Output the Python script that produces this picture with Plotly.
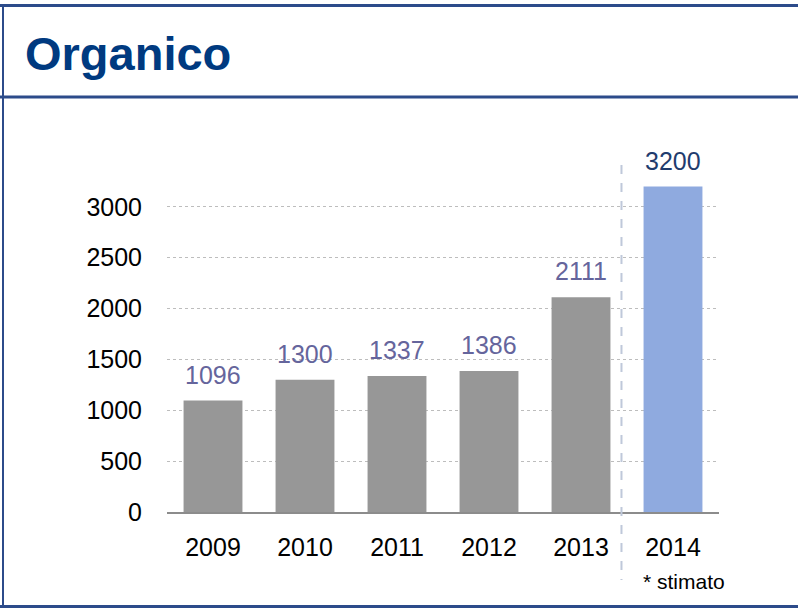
import plotly.graph_objects as go

years = ["2009", "2010", "2011", "2012", "2013", "2014"]
values = [1096, 1300, 1337, 1386, 2111, 3200]
bar_colors = ["#979797"] * 5 + ["#8FAADF"]
label_colors = ["#65659C"] * 5 + ["#1F3C6E"]
y_ticks = [0, 500, 1000, 1500, 2000, 2500, 3000]
title_text = "Organico"
note_text = "* stimato"

W, H = 798, 608
L, R, T, B = 167, 79, 156, 96
PW, PH = W - L - R, H - T - B


def px(xp):
    return (xp - L) / PW


def py(yp):
    return (H - B - yp) / PH


fig = go.Figure()
fig.add_trace(go.Bar(
    x=years, y=values,
    marker=dict(color=bar_colors, line=dict(width=0)),
    hoverinfo="x+y",
))

for i, (v, c) in enumerate(zip(values, label_colors)):
    fig.add_annotation(x=i, y=v, text=str(v), showarrow=False,
                       yanchor="bottom", yshift=10,
                       font=dict(size=25, color=c, family="Liberation Sans, Arial"))

line_col = "#2C4B8A"
shapes = [
    dict(type="line", xref="paper", yref="paper", x0=px(0), x1=px(W), y0=py(5.5), y1=py(5.5),
         line=dict(color=line_col, width=3)),
    dict(type="line", xref="paper", yref="paper", x0=px(0), x1=px(W), y0=py(97), y1=py(97),
         line=dict(color=line_col, width=3)),
    dict(type="line", xref="paper", yref="paper", x0=px(0), x1=px(W), y0=py(606.5), y1=py(606.5),
         line=dict(color=line_col, width=3)),
    dict(type="line", xref="paper", yref="paper", x0=px(3), x1=px(3), y0=py(5), y1=py(607),
         line=dict(color=line_col, width=2)),
    dict(type="line", xref="x", yref="paper", x0=4.44, x1=4.44, y0=py(165), y1=py(580),
         line=dict(color="#BFC8DA", width=2, dash="dash")),
]

fig.add_annotation(xref="paper", yref="paper", x=px(23), y=py(53), text="<b>" + title_text + "</b>",
                   showarrow=False, xanchor="left", yanchor="middle",
                   font=dict(size=47, color="#003A80", family="Liberation Sans, Arial"))
fig.add_annotation(xref="paper", yref="paper", x=px(641), y=py(581), text=note_text,
                   showarrow=False, xanchor="left", yanchor="middle",
                   font=dict(size=21, color="#000000", family="Liberation Sans, Arial"))

fig.update_layout(
    width=W, height=H,
    margin=dict(l=L, r=R, t=T, b=B, pad=0),
    paper_bgcolor="white", plot_bgcolor="white",
    bargap=0.36,
    showlegend=False,
    shapes=shapes,
    font=dict(family="Liberation Sans, Arial", size=25, color="#000000"),
    xaxis=dict(type="category", range=[-0.5, 5.5], showgrid=False, showline=True,
               linecolor="#8C8C8C", linewidth=1.5,
               ticks="", ticklabelstandoff=12, tickfont=dict(size=25, color="#000000")),
    yaxis=dict(range=[0, 3500], tickvals=y_ticks, showgrid=True, gridcolor="#BDBDBD",
               griddash="dot", gridwidth=1, zeroline=False, showline=False, ticks="",
               ticklabelstandoff=24, tickfont=dict(size=25, color="#000000")),
)

fig.write_html("out.html")
